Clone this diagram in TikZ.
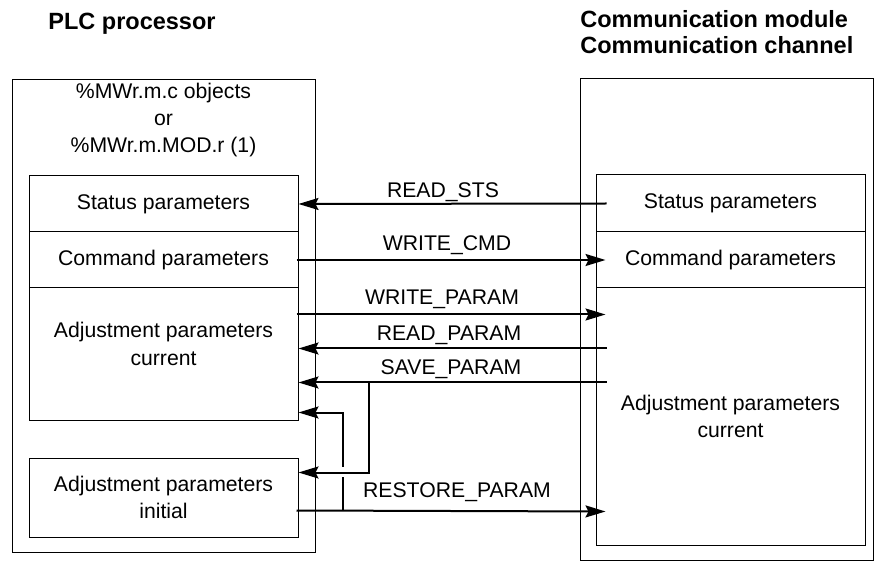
\documentclass[tikz,border=0pt]{standalone}
\usepackage{fontspec}
\setmainfont{Liberation Sans}
\usetikzlibrary{arrows.meta,calc}
\tikzset{
  frame/.style={draw=black, line width=0.5pt, inner sep=0pt},
  cell/.style={draw=black, line width=0.5pt, inner sep=0pt, align=center,
               minimum width=134.5pt, font=\fontsize{10.6}{13.6}\selectfont},
  txt/.style={inner sep=0pt, align=center, font=\fontsize{10.6}{13.6}\selectfont},
  title/.style={inner sep=0pt, align=left, font=\fontsize{11.75}{13}\selectfont\bfseries},
  tag/.style={inner sep=0pt, font=\fontsize{10.6}{13}\selectfont},
  flow/.style={-{Stealth[length=10pt,width=6pt,inset=1.5pt]}, line width=1pt},
  wire/.style={line width=1pt}
}
\begin{document}
\begin{tikzpicture}[x=0.5pt,y=-0.5pt]
  \useasboundingbox (0,0) rectangle (884,561);

  % titles
  \node[title,anchor=north west] (plctitle) at (48,13) {PLC processor};
  \node[title,anchor=north west] (commtitle) at (580,10) {Communication module\\Communication channel};

  % outer frames
  \node[frame,minimum width=151.5pt,minimum height=236pt] (plc) at (163.5,316) {};
  \node[frame,minimum width=146.5pt,minimum height=240.5pt] (comm) at (726.5,319.5) {};
  \node[txt] (plchead) at (163.5,120) {\%MWr.m.c objects\\or\\\%MWr.m.MOD.r (1)};

  % PLC side
  \node[cell,minimum height=28pt] (lstat) at (163.5,204) {Status parameters};
  \node[cell,minimum height=28pt] (lcmd) at (163.5,260) {Command parameters};
  \node[cell,minimum height=66pt] (lcur) at (163.5,354) {};
  \node[txt] (lcurtext) at (163.5,344) {Adjustment parameters\\current};
  \node[cell,minimum height=39.5pt] (linit) at (163.5,497.5) {Adjustment parameters\\initial};

  % module side
  \node[cell,minimum height=28.5pt] (rstat) at (730.5,203.5) {Status parameters};
  \node[cell,minimum height=28pt] (rcmd) at (730.5,260) {Command parameters};
  \node[cell,minimum height=128.5pt] (rcur) at (730.5,416.5) {Adjustment parameters\\current};

  % exchanges
  \draw[flow] ([xshift=5.5pt]rstat.west) -- (lstat.east);
  \draw[flow] ([xshift=-1pt]lcmd.east) -- ([xshift=5pt]rcmd.west);
  \draw[flow] ($(lcur.north east)+(-2,27)$) -- ($(rcur.north west)+(10,27)$);
  \draw[flow] ($(rcur.north west)+(11,61)$) -- ($(lcur.north east)+(0,61)$);
  \draw[flow] ($(rcur.north west)+(11,95)$) -- ($(lcur.north east)+(0,95)$);
  \draw[flow] ($(lcur.north east)+(70,95)$) |- ($(linit.north east)+(0,15)$);
  \draw[flow] ($(linit.north east)+(-2,53)$) -- ($(rcur.south west)+(10,-34)$);
  \coordinate (rsfork) at ($(linit.north east)+(44,53)$);
  \draw[wire] (rsfork) -- ++(0,-34);
  \draw[flow] ($(rsfork)+(0,-44)$) |- ($(lcur.south east)+(0,-8)$);

  \node[tag] (tagreadsts) at (443,192) {READ\_STS};
  \node[tag] (tagwritecmd) at (447,245) {WRITE\_CMD};
  \node[tag] (tagwriteparam) at (442,299) {WRITE\_PARAM};
  \node[tag] (tagreadparam) at (449,335) {READ\_PARAM};
  \node[tag] (tagsaveparam) at (451,369) {SAVE\_PARAM};
  \node[tag] (tagrestore) at (457,492) {RESTORE\_PARAM};
\end{tikzpicture}
\end{document}
